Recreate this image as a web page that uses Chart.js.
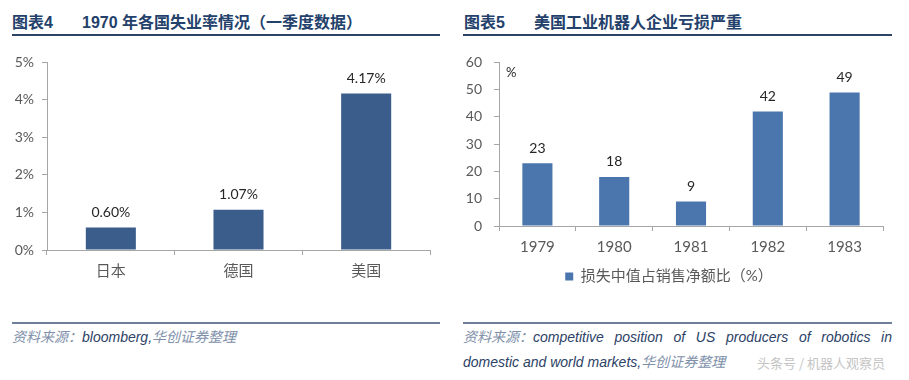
<!DOCTYPE html>
<html><head><meta charset="utf-8">
<script src="https://cdn.jsdelivr.net/npm/chart.js@4.4.0/dist/chart.umd.min.js"></script>
<style>
html,body{margin:0;padding:0;background:#fff;width:909px;height:380px;overflow:hidden;}
.abs{position:absolute;}
.title{font-family:"Liberation Sans","Noto Sans CJK SC",sans-serif;font-weight:bold;font-size:16px;color:#23416b;white-space:nowrap;}
.rule{position:absolute;height:2px;background:#2d4466;}
.frule{position:absolute;height:2px;background:#6f7f97;}
.foot{font-family:"Liberation Sans","Noto Sans CJK SC",sans-serif;font-style:italic;font-size:14px;color:#2c4266;line-height:25px;white-space:nowrap;}
.foot .cn{color:#8090aa;display:inline-block;}
canvas{position:absolute;}
</style></head><body>
<div class="abs title" style="left:12px;top:9px;">图表4</div>
<div class="abs title" style="left:82px;top:9px;">1970 年各国失业率情况（一季度数据）</div>
<div class="rule" style="left:12px;top:34px;width:428px;"></div>
<div class="abs title" style="left:464px;top:9px;">图表5</div>
<div class="abs title" style="left:534px;top:9px;">美国工业机器人企业亏损严重</div>
<div class="rule" style="left:463px;top:34px;width:429px;"></div>

<canvas id="c1" width="450" height="244" style="left:0;top:46px;"></canvas>
<canvas id="c2" width="454" height="255" style="left:455px;top:42px;"></canvas>

<div class="frule" style="left:12px;top:322px;width:428px;"></div>
<div class="abs foot" style="left:12px;top:325px;width:428px;"><span class="cn">资料来源：</span>bloomberg,<span class="cn">华创证券整理</span></div>
<div class="frule" style="left:463px;top:322px;width:429px;"></div>
<div class="abs foot" style="left:463px;top:325px;width:429px;text-align:justify;text-align-last:justify;"><span class="cn">资料来源：</span>competitive position of US producers of robotics in</div>
<div class="abs foot" style="left:463px;top:350px;"><span>domestic and world markets,</span><span class="cn">华创证券整理</span></div>
<div class="abs" style="left:757px;top:353px;font-family:'Noto Sans CJK SC',sans-serif;font-size:13px;color:#c4c4c4;white-space:nowrap;">头条号 / 机器人观察员</div>

<script>
// ---- data ----
const countries = ["日本", "德国", "美国"];
const unemployment = [0.60, 1.07, 4.17];
const unemploymentTicks = [0, 1, 2, 3, 4, 5];

const years = ["1979", "1980", "1981", "1982", "1983"];
const lossRatio = [23, 18, 9, 42, 49];
const lossTicks = [0, 10, 20, 30, 40, 50, 60];
const lossLabel = "损失中值占销售净额比（%）";

const FONT = "Lato, 'Noto Sans CJK SC', sans-serif";
const AXIS_COLOR = "#a6a6a6";
const TICK_COLOR = "#595959";

const valueLabels = {
  id: "valueLabels",
  afterDatasetsDraw(chart, args, opts) {
    const ctx = chart.ctx;
    const meta = chart.getDatasetMeta(0);
    ctx.save();
    ctx.font = "14px " + FONT;
    ctx.fillStyle = "#262626";
    ctx.textAlign = "center";
    ctx.textBaseline = "middle";
    meta.data.forEach((bar, i) => {
      const v = chart.data.datasets[0].data[i];
      ctx.fillText(opts.fmt(v), bar.x, bar.y - 15);
    });
    if (opts.unit) {
      ctx.textAlign = "left";
      ctx.font = "13px " + FONT;
      ctx.fillText(opts.unit, chart.chartArea.left + 7, chart.chartArea.top + 10);
    }
    ctx.restore();
  }
};

function axes(ticksArr, fmt, yWidth, yPad, xPad, xHeight) {
  return {
    x: {
      offset: true,
      grid: { display: true, drawOnChartArea: false, drawTicks: true, tickLength: 5, color: AXIS_COLOR, offset: true },
      border: { display: true, color: AXIS_COLOR },
      ticks: { color: TICK_COLOR, font: { family: FONT, size: 15 }, padding: xPad },
      afterFit(s) { s.height = xHeight; }
    },
    y: {
      min: ticksArr[0], max: ticksArr[ticksArr.length - 1],
      afterBuildTicks(s) { s.ticks = ticksArr.map(v => ({ value: v })); },
      grid: { display: true, drawOnChartArea: false, drawTicks: true, tickLength: 5, color: AXIS_COLOR },
      border: { display: true, color: AXIS_COLOR },
      ticks: { color: TICK_COLOR, font: { family: FONT, size: 14 }, padding: yPad, callback: fmt },
      afterFit(s) { s.width = yWidth; }
    }
  };
}

new Chart(document.getElementById("c1"), {
  type: "bar",
  data: { labels: countries, datasets: [{ data: unemployment, backgroundColor: "#3b5d8c", categoryPercentage: 0.8, barPercentage: 0.49 }] },
  options: {
    responsive: false, animation: false, devicePixelRatio: 1,
    layout: { padding: { left: 0, right: 20, top: 9, bottom: 0 } },
    plugins: { legend: { display: false }, tooltip: { enabled: false },
      valueLabels: { fmt: v => v.toFixed(2) + "%" } },
    scales: axes(unemploymentTicks, v => v + "%", 47, 8, 7, 40)
  },
  plugins: [valueLabels]
});

new Chart(document.getElementById("c2"), {
  type: "bar",
  data: { labels: years, datasets: [{ label: lossLabel, data: lossRatio, backgroundColor: "#4a76ad", categoryPercentage: 0.8, barPercentage: 0.49 }] },
  options: {
    responsive: false, animation: false, devicePixelRatio: 1,
    layout: { padding: { left: 0, right: 26, top: 5, bottom: 3 } },
    plugins: {
      legend: { display: true, position: "bottom",
        labels: { boxWidth: 8, boxHeight: 8, padding: 6, color: TICK_COLOR, font: { family: FONT, size: 15 } } },
      tooltip: { enabled: false },
      valueLabels: { fmt: v => String(v), unit: "%" }
    },
    scales: axes(lossTicks, v => String(v), 44, 12, 7, 37)
  },
  plugins: [valueLabels]
});
</script>
</body></html>
